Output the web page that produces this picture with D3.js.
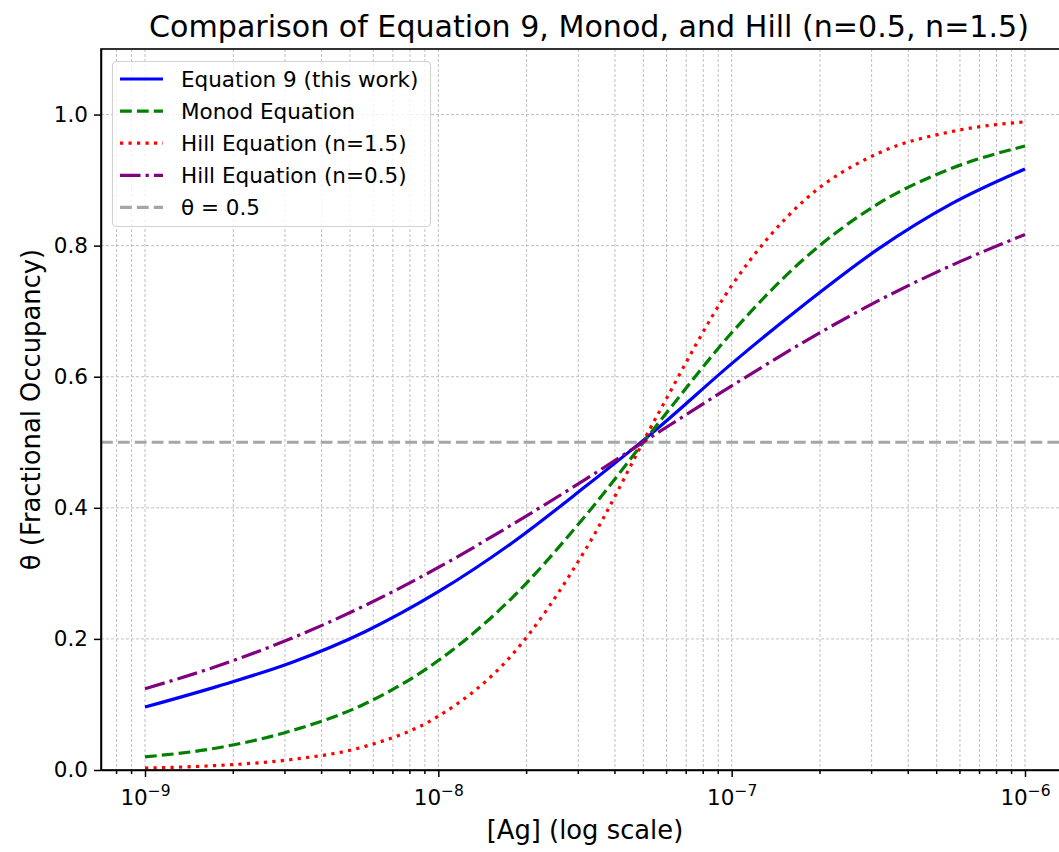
<!DOCTYPE html>
<html>
<head>
<meta charset="utf-8">
<script src="https://cdn.jsdelivr.net/npm/d3@7"></script>
<style>
  body { margin: 0; background: #fff; }
  svg { display: block; font-family: 'DejaVu Sans', sans-serif; }
  .grid line { stroke: #b9b9b9; stroke-width: 0.9; stroke-dasharray: 3,2; }
  .axis path, .axis line { stroke: #000; stroke-width: 1.5; }
  .axis text { fill: #000; }
</style>
</head>
<body>
<div id="chart"></div>
<script>
// [Ag] sample points (quarter decades from 1e-9 to 1e-6)
const concentration = [1e-9, 1.778e-9, 3.162e-9, 5.623e-9, 1e-8, 1.778e-8, 3.162e-8, 5.623e-8, 1e-7, 1.778e-7, 3.162e-7, 5.623e-7, 1e-6];

// theta values
const eq9Values    = [0.096, 0.128, 0.164, 0.211, 0.272, 0.346, 0.432, 0.522, 0.620, 0.711, 0.795, 0.864, 0.917];
const monodValues  = [0.020, 0.034, 0.060, 0.101, 0.167, 0.262, 0.387, 0.529, 0.667, 0.781, 0.864, 0.918, 0.952];
const hill15Values = [0.003, 0.007, 0.016, 0.036, 0.082, 0.175, 0.335, 0.544, 0.739, 0.870, 0.941, 0.974, 0.989];
const hill05Values = [0.124, 0.159, 0.201, 0.251, 0.309, 0.374, 0.443, 0.515, 0.586, 0.654, 0.716, 0.770, 0.817];

const seriesNames = ['Equation 9 (this work)', 'Monod Equation', 'Hill Equation (n=1.5)', 'Hill Equation (n=0.5)'];
const referenceLevel = 0.5;
const referenceName = '\u03b8 = 0.5';

const xMajorTicks = [1e-9, 1e-8, 1e-7, 1e-6];
const xTickExponents = ['\u22129', '\u22128', '\u22127', '\u22126'];
const yTicks = [0, 0.2, 0.4, 0.6, 0.8, 1.0];

const width = 1059;
const height = 852;
const plot = { left: 101, right: 1069, top: 49, bottom: 770 };

const svg = d3.select('#chart')
  .append('svg')
    .attr('width', width)
    .attr('height', height);

svg.append('rect')
  .attr('width', width)
  .attr('height', height)
  .attr('fill', '#fff');

const x = d3.scaleLog()
  .domain([Math.pow(10, -9.15), Math.pow(10, -5.85)])
  .range([plot.left, plot.right]);

const y = d3.scaleLinear()
  .domain([0, 1.1])
  .range([plot.bottom, plot.top]);

// minor ticks 2..9 x 10^k inside the domain
const xMinorTicks = [];
for (let k = -10; k <= -6; k++) {
  for (let m = 2; m <= 9; m++) {
    const v = m * Math.pow(10, k);
    if (v >= x.domain()[0] && v <= x.domain()[1]) { xMinorTicks.push(v); }
  }
}

// grid (both major and minor on x, major on y)
const grid = svg.append('g').attr('class', 'grid');

grid.selectAll('line.gx')
  .data(xMajorTicks.concat(xMinorTicks))
  .enter()
  .append('line')
    .attr('class', 'gx')
    .attr('x1', d => x(d)).attr('x2', d => x(d))
    .attr('y1', plot.top).attr('y2', plot.bottom);

grid.selectAll('line.gy')
  .data(yTicks.filter(d => d > 0))
  .enter()
  .append('line')
    .attr('class', 'gy')
    .attr('x1', plot.left).attr('x2', plot.right)
    .attr('y1', d => y(d)).attr('y2', d => y(d));

// curves
const line = d3.line()
  .x(d => x(d[0]))
  .y(d => y(d[1]))
  .curve(d3.curveMonotoneX);

const series = [
  { name: seriesNames[0], values: eq9Values,    color: '#0000ff', dash: null },
  { name: seriesNames[1], values: monodValues,  color: '#008000', dash: '11.8,5.1' },
  { name: seriesNames[2], values: hill15Values, color: '#ff0000', dash: '3.2,5.3' },
  { name: seriesNames[3], values: hill05Values, color: '#800080', dash: '20.5,5.1,3.2,5.1' }
];

const curves = svg.append('g');

// reference line theta = 0.5
curves.append('line')
  .attr('x1', plot.left).attr('x2', plot.right)
  .attr('y1', y(referenceLevel)).attr('y2', y(referenceLevel))
  .attr('stroke', '#a6a6a6')
  .attr('stroke-width', 3.2)
  .attr('stroke-dasharray', '11.8,5.1');

curves.selectAll('path.series')
  .data(series)
  .enter()
  .append('path')
    .attr('class', 'series')
    .attr('fill', 'none')
    .attr('stroke', d => d.color)
    .attr('stroke-width', 3.2)
    .attr('stroke-dasharray', d => d.dash)
    .attr('d', d => line(concentration.map((c, i) => [c, d.values[i]])));

// axes
const xAxis = svg.append('g')
  .attr('class', 'axis')
  .attr('transform', 'translate(0,' + plot.bottom + ')')
  .call(d3.axisBottom(x).tickValues(xMajorTicks).tickSize(7).tickPadding(6).tickSizeOuter(0));

xAxis.selectAll('.tick text')
  .attr('font-size', 21.5)
  .attr('font-family', 'DejaVu Sans')
  .attr('dy', '1.0em')
  .text(null)
  .each(function(d, i) {
    const t = d3.select(this);
    t.append('tspan').text('10');
    t.append('tspan')
      .attr('font-size', 15.5)
      .attr('dy', '-0.55em')
      .text(xTickExponents[i]);
  });

xAxis.selectAll('.minor')
  .data(xMinorTicks)
  .enter()
  .append('line')
    .attr('class', 'minor')
    .attr('x1', d => x(d)).attr('x2', d => x(d))
    .attr('y1', 0).attr('y2', 4);

const yAxis = svg.append('g')
  .attr('class', 'axis')
  .attr('transform', 'translate(' + plot.left + ',0)')
  .call(d3.axisLeft(y).tickValues(yTicks).tickFormat(d3.format('.1f')).tickSize(7).tickPadding(6).tickSizeOuter(0));

yAxis.selectAll('.tick text')
  .attr('font-size', 21.5)
  .attr('font-family', 'DejaVu Sans');

// frame
svg.append('rect')
  .attr('x', plot.left)
  .attr('y', plot.top)
  .attr('width', plot.right - plot.left)
  .attr('height', plot.bottom - plot.top)
  .attr('fill', 'none')
  .attr('stroke', '#000')
  .attr('stroke-width', 1.6);

// titles
svg.append('text')
  .attr('x', (plot.left + plot.right) / 2 + 4)
  .attr('y', 37)
  .attr('text-anchor', 'middle')
  .attr('font-size', 30.1)
  .text('Comparison of Equation 9, Monod, and Hill (n=0.5, n=1.5)');

svg.append('text')
  .attr('x', (plot.left + plot.right) / 2)
  .attr('y', 839)
  .attr('text-anchor', 'middle')
  .attr('font-size', 25.8)
  .text('[Ag] (log scale)');

svg.append('text')
  .attr('transform', 'translate(40,' + ((plot.top + plot.bottom) / 2) + ') rotate(-90)')
  .attr('text-anchor', 'middle')
  .attr('font-size', 25.8)
  .text('\u03b8 (Fractional Occupancy)');

// legend
const legendItems = series.map(s => ({ name: s.name, color: s.color, dash: s.dash }))
  .concat([{ name: referenceName, color: '#a6a6a6', dash: '11.8,5.1' }]);

const legend = svg.append('g');

legend.append('rect')
  .attr('x', 112.5).attr('y', 61.5)
  .attr('width', 318).attr('height', 165)
  .attr('rx', 4)
  .attr('fill', '#fff')
  .attr('fill-opacity', 0.8)
  .attr('stroke', '#d3d3d3')
  .attr('stroke-width', 1.2);

const rows = legend.selectAll('g.row')
  .data(legendItems)
  .enter()
  .append('g')
    .attr('class', 'row')
    .attr('transform', (d, i) => 'translate(0,' + (79 + i * 32.1) + ')');

rows.append('line')
  .attr('x1', 120).attr('x2', 163)
  .attr('stroke', d => d.color)
  .attr('stroke-width', 3.2)
  .attr('stroke-dasharray', d => d.dash);

rows.append('text')
  .attr('x', 181)
  .attr('dy', '0.35em')
  .attr('font-size', 21.5)
  .text(d => d.name);
</script>
</body>
</html>
